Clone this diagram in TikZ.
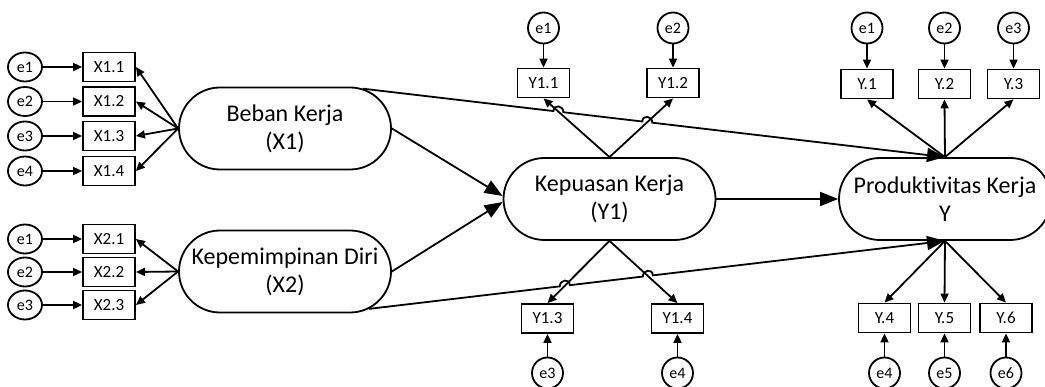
\documentclass[tikz,border=0pt]{standalone}
\usepackage{fontspec}
\setmainfont{Carlito}[Ligatures=NoCommon]
\usetikzlibrary{shapes.misc,shapes.geometric,arrows.meta,calc}
\tikzset{
  lat/.style={rounded rectangle,draw,line width=1.8pt,minimum width=216pt,minimum height=82pt,align=center,inner sep=2pt,font=\fontsize{24}{28}\selectfont},
  ind/.style={rectangle,draw,line width=1.8pt,minimum width=52pt,minimum height=29pt,inner sep=1pt,font=\fontsize{17}{20}\selectfont},
  err/.style={circle,draw,line width=1.8pt,minimum size=31pt,inner sep=0pt,font=\fontsize{16}{18}\selectfont},
  errl/.style={ellipse,draw,line width=1.8pt,minimum width=34pt,minimum height=29pt,inner sep=0pt,font=\fontsize{16}{18}\selectfont},
  arr/.style={line width=1.8pt,-{Triangle[length=9pt,width=8pt]}},
  big/.style={line width=1.8pt,-{Triangle[length=18pt,width=14pt]}},
}
\begin{document}
\begin{tikzpicture}[x=1pt,y=-1pt]
\clip (0,0) rectangle (1045,387);
% latent nodes
\node[lat] (B) at (285,128.5) {Beban Kerja\\(X1)};
\node[lat] (D) at (285,271.5) {Kepemimpinan Diri\\(X2)};
\node[lat] (K) at (609.5,199) {Kepuasan Kerja\\(Y1)};
\node[lat] (P) at (945,199) {Produktivitas Kerja\\Y};
% X1 indicators
\foreach \i/\y in {1/67,2/101.5,3/136,4/171}{
  \node[errl] (ea\i) at (25,\y) {e\i};
  \node[ind] (xa\i) at (109,\y) {X1.\i};
  \draw[arr] (ea\i) -- (xa\i);
  \draw[arr] (B.west) -- (xa\i.east);
}
% X2 indicators
\foreach \i/\y in {1/239,2/272,3/305}{
  \node[errl] (eb\i) at (25,\y) {e\i};
  \node[ind] (xb\i) at (109,\y) {X2.\i};
  \draw[arr] (eb\i) -- (xb\i);
  \draw[arr] (D.west) -- (xb\i.east);
}
% Y1 indicators
\node[ind] (Y11) at (543.5,83) {Y1.1};
\node[ind] (Y12) at (673,83) {Y1.2};
\node[ind] (Y13) at (547.5,318.5) {Y1.3};
\node[ind] (Y14) at (677.5,318.5) {Y1.4};
\node[err] (ey1) at (543.5,28) {e1};
\node[err] (ey2) at (673,28) {e2};
\node[err] (ey3) at (547.5,373) {e3};
\node[err] (ey4) at (677.5,373) {e4};
\draw[arr] (ey1) -- (Y11);
\draw[arr] (ey2) -- (Y12);
\draw[arr] (ey3) -- (Y13);
\draw[arr] (ey4) -- (Y14);
\draw[arr] (K.north) -- (Y11.south);
\draw[arr] (K.north) -- (Y12.south);
\draw[arr] (K.south) -- (Y13.north);
\draw[arr] (K.south) -- (Y14.north);
% Y indicators
\foreach \i/\x in {1/867,2/944.5,3/1013.5}{
  \node[ind] (Yt\i) at (\x,84) {Y.\i};
  \node[err] (et\i) at (\x,28) {e\i};
  \draw[arr] (et\i) -- (Yt\i);
  \draw[arr] (P.north) -- (Yt\i.south);
}
\foreach \i/\x in {4/884.5,5/944.5,6/1006}{
  \node[ind] (Yb\i) at (\x,318) {Y.\i};
  \node[err] (ebb\i) at (\x,373) {e\i};
  \draw[arr] (ebb\i) -- (Yb\i);
  \draw[arr] (P.south) -- (Yb\i.north);
}
% structural paths
\draw[big] (B.east) -- ([yshift=3pt]K.west);
\draw[big] (D.east) -- ([yshift=-3pt]K.west);
\draw[big] (K.east) -- (P.west);
% long paths with hops
\coordinate (h1) at (intersection of B.27--P.north and K.north--Y11.south);
\coordinate (h2) at (intersection of B.27--P.north and K.north--Y12.south);
\coordinate (h3) at (intersection of D.-24--P.south and K.south--Y13.north);
\coordinate (h4) at (intersection of D.-24--P.south and K.south--Y14.north);
\draw[big] (B.27) -- ($(h1)!5pt!(B.27)$) .. controls +(0,-7) and +(0,-7) .. ($(h1)!5pt!(P.north)$)
  -- ($(h2)!5pt!(B.27)$) .. controls +(0,-7) and +(0,-7) .. ($(h2)!5pt!(P.north)$) -- (P.north);
\draw[big] (D.-24) -- ($(h3)!5pt!(D.-24)$) .. controls +(0,-7) and +(0,-7) .. ($(h3)!5pt!(P.south)$)
  -- ($(h4)!5pt!(D.-24)$) .. controls +(0,-7) and +(0,-7) .. ($(h4)!5pt!(P.south)$) -- (P.south);
\end{tikzpicture}
\end{document}
